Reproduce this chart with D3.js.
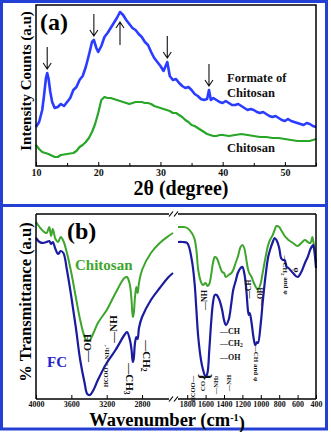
<!DOCTYPE html>
<html>
<head>
<meta charset="utf-8">
<script src="https://cdn.jsdelivr.net/npm/d3@7"></script>
<style>
html, body { margin: 0; padding: 0; background: #fff; }
svg { display: block; }
</style>
</head>
<body>
<svg id="fig" width="331" height="432"></svg>
<script>
// ---- XRD patterns (2 theta in degrees, intensity in counts) ----
const formateTheta = [10,10.5,11,11.3,11.6,11.8,12,12.3,12.6,13,13.5,14,14.5,15,15.5,16,16.5,17,17.5,18,
    18.5,19,19.3,19.7,20,20.5,21,21.5,22,22.5,23,23.5,24,24.5,25,25.5,26,26.5,27,27.5,
    28,28.5,29,29.5,30,30.5,31.1,31.5,32,32.5,33,33.5,34,34.5,35,35.5,36,36.5,37,37.5,
    37.8,38.1,38.5,39,39.5,40,40.5,41,41.5,42,42.5,43,43.5,44,44.5,45,45.5,46,46.5,47,
    47.5,48,48.5,49,49.5,50,50.5,51,51.5,52,52.5,53,53.5,54,54.5,55];
const formateCounts = [390,440,560,710,880,930,880,740,640,580,590,620,600,640,680,760,790,860,900,990,
    1110,1240,1260,1180,1140,1200,1290,1330,1380,1430,1480,1540,1510,1460,1420,1380,1360,1320,1290,1240,
    1210,1140,1080,1040,1000,950,1040,900,860,870,830,800,780,790,760,720,700,670,660,670,
    760,660,680,660,640,630,650,630,610,610,620,600,580,560,570,560,540,530,540,520,
    500,490,500,480,460,450,470,450,440,430,420,410,430,420,400,390];

const chitosanTheta = [10,10.5,11,12,13,13.5,14,15,16,16.5,17,17.5,18,18.5,19,19.5,20,20.5,21,21.5,
    22,22.5,23,23.5,24,24.5,25,25.5,26,26.5,27,27.5,28,28.5,29,29.5,30,30.5,31,31.5,
    32,32.5,33,33.5,34,34.5,35,35.5,36,36.5,37,37.5,38,38.5,39,39.5,40,41,42,43,
    44,45,46,47,48,49,50,51,52,53,54,55];
const chitosanCounts = [210,170,140,120,90,90,110,120,130,150,190,210,240,280,340,420,530,660,690,680,
    680,670,660,650,640,630,620,630,640,640,640,630,630,620,600,590,580,570,560,550,
    530,530,510,490,460,440,410,400,380,360,340,320,310,300,300,310,310,300,310,320,
    310,300,290,290,280,280,270,260,250,250,250,270];

const thetaTicks = [10, 20, 30, 40, 50];
const thetaMinor = [15, 25, 35, 45, 55];
// marked reflections of the formate: [2 theta, arrow direction]
const peakMarks = [[11.8, 'down'], [19.3, 'down'], [23.5, 'up'], [31.1, 'down'], [37.8, 'down']];

// ---- FTIR spectra (wavenumber in cm-1, transmittance in a.u.) ----
const waveHigh = [4000,3960,3920,3880,3850,3830,3810,3780,3750,3720,3690,3650,3600,3550,3500,3450,3420,3390,3350,3300,
    3200,3100,3000,2970,2940,2920,2905,2895,2880,2865,2850,2835,2800,2700,2600,2500,2450];
const chitosanTHigh = [177,172,168,166,172,163,170,160,157,162,158,146,126,102,79,62,58,59,66,76,
    89,106,121,122,115,100,82,85,102,112,106,116,129,146,156,163,166];
const fcTHigh = [161,157,156,157,158,155,157,150,145,148,146,129,102,72,39,16,5,4,9,19,
    36,49,64,67,60,50,37,40,56,62,60,71,82,99,111,122,126];

const waveLow = [1900,1850,1800,1750,1720,1700,1680,1650,1630,1600,1580,1560,1540,1520,1500,1480,1450,1420,1400,1380,
    1350,1320,1300,1270,1250,1220,1200,1180,1160,1140,1130,1120,1100,1080,1060,1040,1030,1000,980,950,
    920,900,870,850,830,800,780,760,740,720,700,650,600,560,520,490,460,440,430,415,400];
const chitosanTLow = [172,172,171,166,160,149,129,117,114,116,113,115,124,136,142,141,134,127,126,122,
    124,126,129,137,142,152,154,151,141,130,127,125,122,117,113,110,109,116,126,141,
    154,159,164,169,173,172,169,166,163,161,159,156,153,156,159,157,156,162,158,150,136];
const fcTLow = [157,157,156,139,116,89,62,39,30,22,26,49,76,96,104,104,99,89,79,74,
    79,96,109,119,126,131,132,126,112,89,84,86,76,62,54,57,56,76,96,122,
    142,149,157,161,159,151,141,139,139,132,131,126,122,127,136,142,150,153,154,146,131];

const waveTicksHigh = [4000, 3600, 3200, 2800];
const waveTicksLow = [1800, 1600, 1400, 1200, 1000, 800, 600, 400];

// band assignments: wavenumber, transmittance, text, rotation, font size
// "_x" is a subscript character, "^x" a superscript one
const bandsHigh = [
    [3420, 51, '—OH', -90, 11],
    [3130, 70, '—NH', -90, 11],
    [3220, 33, 'HCOO^-—NH_3^+', -90, 6.5],
    [2935, 20, '—CH_3', 90, 11],
    [2744, 43, '—CH_2', 90, 11]
];
const bandsLow = [
    [1617, 99, '—NH', -90, 8],
    [1748, 10, 'HCOO—', -90, 6.5],
    [1630, 13, 'CO', -90, 7],
    [1500, 14, '—NH_2', -90, 6.5],
    [1357, 16, '—NH', -90, 6.5],
    [1139, 110, '—CH', -90, 7.5],
    [1011, 102, '—OH', -90, 7.5],
    [1052, 36, '—CH and φ', 90, 7],
    [737, 124, '—CH_2 and φ', 90, 7],
    [607, 129, 'φ', 90, 8]
];
const groupsLow = [[1443, 68, '—CH'], [1443, 56, '—CH_2'], [1443, 42, '—OH']];

const serif = '"Liberation Serif", "Times New Roman", serif';
const frameBlue = '#2440d4';

const svg = d3.select('#fig');
svg.append('rect').attr('width', 331).attr('height', 432).attr('fill', '#fff');

// writes a label, turning _x / ^x into sub / superscripts
function richText(sel, str) {
    let shift = 0;
    const re = /([_^])(.)/g;
    let last = 0, m;
    const parts = [];
    while ((m = re.exec(str)) !== null) {
        if (m.index > last) parts.push([str.slice(last, m.index), 0]);
        parts.push([m[2], m[1] === '_' ? 1 : -1]);
        last = re.lastIndex;
    }
    if (last < str.length) parts.push([str.slice(last), 0]);
    parts.forEach(([txt, pos]) => {
        const want = pos * 0.35;
        sel.append('tspan')
            .attr('dy', (want - shift) + 'em')
            .attr('font-size', pos ? '70%' : null)
            .text(txt);
        shift = want;
    });
}

function label(g, x, y, str, rot, size, anchor) {
    const t = g.append('text')
        .attr('transform', `translate(${x},${y}) rotate(${rot})`)
        .attr('text-anchor', anchor || 'middle')
        .attr('dominant-baseline', 'central')
        .attr('font-family', serif)
        .attr('font-weight', 'bold')
        .attr('font-size', size)
        .attr('fill', '#111');
    richText(t, str);
    return t;
}

// blue panel borders
svg.append('rect')
    .attr('x', 1.5).attr('y', 1.5).attr('width', 325).attr('height', 427.5)
    .attr('fill', 'none').attr('stroke', frameBlue).attr('stroke-width', 3);
svg.append('line')
    .attr('x1', 1.5).attr('x2', 326.5).attr('y1', 205.5).attr('y2', 205.5)
    .attr('stroke', frameBlue).attr('stroke-width', 3);

// ======== (a) XRD ========
const xA = d3.scaleLinear().domain([10, 55]).range([36, 316]);
const yA = d3.scaleLinear().domain([0, 1610]).range([166, 5]);
const gA = svg.append('g');

function styleAxis(g, size) {
    g.select('.domain').remove();
    g.selectAll('.tick line').attr('stroke', '#000').attr('stroke-width', 1);
    g.selectAll('.tick text')
        .attr('font-family', serif).attr('font-weight', 'bold')
        .attr('font-size', size).attr('fill', '#111');
}

gA.append('g')
    .attr('transform', 'translate(0,166)')
    .call(d3.axisBottom(xA).tickValues(thetaTicks).tickSize(-4).tickPadding(3).tickFormat(d3.format('d')))
    .call(g => styleAxis(g, 10));
gA.append('g')
    .attr('transform', 'translate(0,166)')
    .call(d3.axisBottom(xA).tickValues(thetaMinor).tickSize(-3).tickFormat(''))
    .call(g => styleAxis(g, 10));

const lineA = d3.line().x(d => xA(d[0])).y(d => yA(d[1]));

gA.append('path')
    .datum(d3.zip(chitosanTheta, chitosanCounts))
    .attr('d', lineA)
    .attr('fill', 'none').attr('stroke', '#27a628').attr('stroke-width', 2.2)
    .attr('stroke-linejoin', 'round');
gA.append('path')
    .datum(d3.zip(formateTheta, formateCounts))
    .attr('d', lineA)
    .attr('fill', 'none').attr('stroke', '#2a3cff').attr('stroke-width', 2.6)
    .attr('stroke-linejoin', 'round');

gA.append('rect')
    .attr('x', 36).attr('y', 5).attr('width', 280).attr('height', 161)
    .attr('fill', 'none').attr('stroke', '#000').attr('stroke-width', 1.5);

// arrows above / below the marked reflections
peakMarks.forEach(([th, dir]) => {
    const i = d3.minIndex(formateTheta, t => Math.abs(t - th));
    const x = xA(th);
    const yp = yA(formateCounts[i]);
    const tip = dir === 'down' ? yp - 4 : yp + 10;
    const tail = dir === 'down' ? tip - 22 : tip + 23;
    const s = dir === 'down' ? -1 : 1;
    gA.append('path')
        .attr('d', `M${x},${tail}L${x},${tip}M${x - 4},${tip + s * 6}L${x},${tip}L${x + 4},${tip + s * 6}`)
        .attr('fill', 'none').attr('stroke', '#111').attr('stroke-width', 1.1);
});

gA.append('text').attr('x', 40).attr('y', 30)
    .attr('font-family', serif).attr('font-weight', 'bold').attr('font-size', 24)
    .text('(a)');
[['Formate of', 82], ['Chitosan', 97], ['Chitosan', 152]].forEach(([s, y]) => {
    gA.append('text').attr('x', 227).attr('y', y)
        .attr('font-family', serif).attr('font-weight', 'bold').attr('font-size', 12.5)
        .attr('fill', '#111').text(s);
});
gA.append('text').attr('x', 181).attr('y', 195).attr('text-anchor', 'middle')
    .attr('font-family', serif).attr('font-weight', 'bold').attr('font-size', 20)
    .text('2θ (degree)');
gA.append('text').attr('transform', 'translate(31,81) rotate(-90)').attr('text-anchor', 'middle')
    .attr('font-family', serif).attr('font-weight', 'bold').attr('font-size', 15)
    .text('Intensity Counts (a.u)');

// ======== (b) FTIR with a broken wavenumber axis ========
const xHi = d3.scaleLinear().domain([4000, 2450]).range([36, 173]);
const xLo = d3.scaleLinear().domain([1900, 400]).range([178, 316]);
const yB = d3.scaleLinear().domain([0, 185]).range([399, 214]);
const gB = svg.append('g');

gB.append('g')
    .attr('transform', 'translate(0,399)')
    .call(d3.axisBottom(xHi).tickValues(waveTicksHigh).tickSize(-4).tickPadding(2).tickFormat(d3.format('d')))
    .call(g => styleAxis(g, 8));
gB.append('g')
    .attr('transform', 'translate(0,399)')
    .call(d3.axisBottom(xLo).tickValues(waveTicksLow).tickSize(-4).tickPadding(2).tickFormat(d3.format('d')))
    .call(g => styleAxis(g, 8));

const curve = d3.curveCatmullRom.alpha(0.5);
const series = [
    [xHi, waveHigh, chitosanTHigh, '#3da52c', 2],
    [xHi, waveHigh, fcTHigh, '#1b1b9e', 2.2],
    [xLo, waveLow, chitosanTLow, '#3da52c', 2],
    [xLo, waveLow, fcTLow, '#1b1b9e', 2.2]
];
series.forEach(([xs, w, t, color, sw]) => {
    gB.append('path')
        .datum(d3.zip(w, t))
        .attr('d', d3.line().curve(curve).x(d => xs(d[0])).y(d => yB(d[1])))
        .attr('fill', 'none').attr('stroke', color).attr('stroke-width', sw)
        .attr('stroke-linejoin', 'round');
});

// frame with gaps at the break
const frame = gB.append('g').attr('stroke', '#000').attr('stroke-width', 1.5).attr('fill', 'none');
[214, 399].forEach(y => {
    frame.append('line').attr('x1', 36).attr('x2', 169).attr('y1', y).attr('y2', y);
    frame.append('line').attr('x1', 178).attr('x2', 316).attr('y1', y).attr('y2', y);
    frame.append('path')
        .attr('d', `M169,${y + 2.5}L173,${y - 2.5}M174,${y + 2.5}L178,${y - 2.5}`)
        .attr('stroke-width', 1.2);
});
frame.append('line').attr('x1', 36).attr('x2', 36).attr('y1', 214).attr('y2', 399);
frame.append('line').attr('x1', 316).attr('x2', 316).attr('y1', 214).attr('y2', 399);

bandsHigh.forEach(([w, t, s, r, f]) => label(gB, xHi(w), yB(t), s, r, f));
bandsLow.forEach(([w, t, s, r, f]) => label(gB, xLo(w), yB(t), s, r, f));
groupsLow.forEach(([w, t, s]) => label(gB, xLo(w), yB(t), s, 0, 8, 'start'));
// brace over C=O
label(gB, xLo(1615), yB(22), '{', -90, 17);

gB.append('text').attr('x', 67).attr('y', 239)
    .attr('font-family', serif).attr('font-weight', 'bold').attr('font-size', 24)
    .text('(b)');
gB.append('text').attr('x', 75).attr('y', 270)
    .attr('font-family', serif).attr('font-weight', 'bold').attr('font-size', 15)
    .attr('fill', '#3da52c').text('Chitosan');
gB.append('text').attr('x', 47).attr('y', 367)
    .attr('font-family', serif).attr('font-weight', 'bold').attr('font-size', 15)
    .attr('fill', '#2424c8').text('FC');

const xt = gB.append('text').attr('x', 167).attr('y', 425.5).attr('text-anchor', 'middle')
    .attr('font-family', serif).attr('font-weight', 'bold').attr('font-size', 18.5);
xt.append('tspan').text('Wavenumber (cm');
xt.append('tspan').attr('dy', '-0.45em').attr('font-size', '55%').text('-1');
xt.append('tspan').attr('dy', '0.45em').text(')');

gB.append('text').attr('transform', 'translate(31,302) rotate(-90)').attr('text-anchor', 'middle')
    .attr('font-family', serif).attr('font-weight', 'bold').attr('font-size', 16.5)
    .text('% Transmittance (a.u)');
</script>
</body>
</html>
